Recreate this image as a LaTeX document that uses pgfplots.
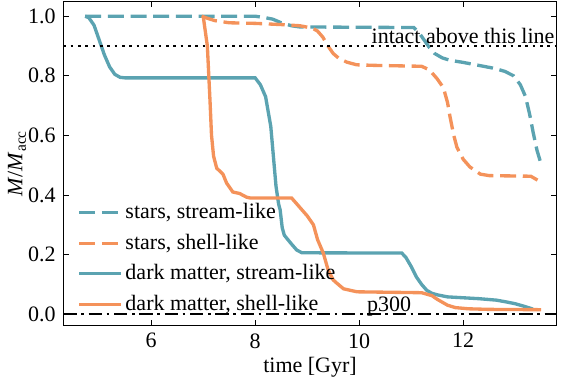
\documentclass[border=0pt]{standalone}
\usepackage{pgfplots}
\pgfplotsset{compat=1.18}
\usepackage{fontspec}
\setmainfont{Liberation Serif}
\definecolor{teal1}{RGB}{91,163,177}
\definecolor{orng}{RGB}{244,146,90}
\begin{document}
\fontsize{16.5}{19.5}\selectfont
\begin{tikzpicture}[font=\fontsize{16.5}{19.5}\selectfont]
\begin{axis}[
  scale only axis, width=370pt, height=243.3pt,
  xmin=4.31, xmax=13.80, ymin=-0.039, ymax=1.05,
  xtick={6,8,10,12}, ytick={0,0.2,0.4,0.6,0.8,1.0},
  /pgf/number format/assume math mode=true,
  tick label style={font=\fontsize{16.5}{19.5}\selectfont},
  label style={font=\fontsize{16.5}{19.5}\selectfont},
  yticklabel style={/pgf/number format/fixed,/pgf/number format/fixed zerofill,/pgf/number format/precision=1},
  tick align=inside, major tick length=4pt,
  axis line style={line width=0.8pt}, every tick/.style={black,line width=0.7pt},
  xlabel={time [Gyr]}, ylabel={\textit{M}/\textit{M}\textsubscript{acc}},
  ylabel style={yshift=-9.5pt},
  xlabel style={yshift=4.5pt},
  legend cell align=left,
  legend style={draw=none, fill=none, at={(0.02,0.02)}, anchor=south west, row sep=5pt,
    font=\fontsize{16.5}{19.5}\selectfont,
    /tikz/every even column/.append style={column sep=4pt}},
  legend image code/.code={\draw[#1] (0pt,0pt) -- (31.5pt,0pt);},
]
\addplot[teal1, line width=2.5pt, dash pattern=on 12pt off 5pt] coordinates {
(4.73,1.0) (8.0,1.0) (8.2,0.995) (8.34,0.99) (8.5,0.978) (8.7,0.968) (8.86,0.964) (11.05,0.962) (11.15,0.945) (11.25,0.92) (11.35,0.895) (11.45,0.875) (11.6,0.86) (11.75,0.852) (12.0,0.845) (12.3,0.835) (12.6,0.825) (12.8,0.815) (12.97,0.80) (13.1,0.77) (13.2,0.73) (13.28,0.67) (13.35,0.607) (13.42,0.55) (13.48,0.515)
};
\addlegendentry{stars, stream-like}
\addplot[orng, line width=2.5pt, dash pattern=on 12pt off 5pt] coordinates {
(6.97,1.0) (7.1,0.992) (7.23,0.985) (7.5,0.978) (8.0,0.976) (8.5,0.972) (8.86,0.968) (9.1,0.96) (9.2,0.95) (9.3,0.93) (9.4,0.9) (9.5,0.875) (9.6,0.86) (9.76,0.846) (9.95,0.837) (10.3,0.835) (11.2,0.832) (11.35,0.82) (11.5,0.79) (11.62,0.76) (11.7,0.71) (11.75,0.66) (11.82,0.6) (11.88,0.56) (12.0,0.52) (12.13,0.494) (12.33,0.47) (12.5,0.465) (13.3,0.463) (13.43,0.45)
};
\addlegendentry{stars, shell-like}
\addplot[teal1, line width=2.5pt] coordinates {
(4.73,1.0) (4.8,0.995) (4.9,0.97) (5.0,0.92) (5.1,0.87) (5.2,0.83) (5.3,0.805) (5.4,0.795) (5.5,0.793) (8.0,0.793) (8.1,0.77) (8.2,0.73) (8.3,0.63) (8.35,0.53) (8.4,0.43) (8.45,0.37) (8.48,0.35) (8.52,0.29) (8.56,0.265) (8.62,0.252) (8.7,0.235) (8.8,0.215) (8.9,0.206) (10.82,0.205) (10.9,0.19) (11.0,0.16) (11.1,0.125) (11.2,0.10) (11.3,0.08) (11.4,0.07) (11.5,0.065) (11.7,0.058) (12.0,0.055) (12.3,0.052) (12.64,0.047) (12.8,0.042) (13.0,0.035) (13.2,0.025) (13.34,0.017)
};
\addlegendentry{dark matter, stream-like}
\addplot[orng, line width=2.5pt] coordinates {
(7.0,1.0) (7.04,0.95) (7.08,0.9) (7.13,0.72) (7.16,0.6) (7.2,0.53) (7.26,0.49) (7.32,0.48) (7.38,0.47) (7.45,0.44) (7.57,0.41) (7.7,0.405) (7.83,0.393) (7.9,0.39) (8.7,0.39) (8.8,0.37) (8.9,0.35) (9.0,0.33) (9.12,0.30) (9.2,0.25) (9.31,0.205) (9.4,0.15) (9.5,0.115) (9.57,0.104) (9.7,0.085) (9.96,0.075) (11.2,0.072) (11.4,0.062) (11.5,0.05) (11.6,0.04) (11.7,0.03) (11.85,0.022) (12.1,0.018) (12.5,0.016) (13.5,0.015)
};
\addlegendentry{dark matter, shell-like}
\addplot[black, line width=2pt, dash pattern=on 2pt off 3.5pt, forget plot] coordinates {(4.31,0.9) (13.80,0.9)};
\addplot[black, line width=2pt, dash pattern=on 10pt off 3.5pt on 2pt off 3.5pt, forget plot] coordinates {(4.31,0.0) (13.80,0.0)};
\node[anchor=south east, inner sep=0pt] at (axis cs:13.76,0.908) {intact above this line};
\node[anchor=base west, inner sep=0pt] at (axis cs:10.15,0.008) {p300};
\end{axis}
\pgfresetboundingbox
\useasboundingbox ([xshift=-47.5pt,yshift=-41.5pt]current axis.south west) rectangle ([xshift=3.2pt,yshift=1pt]current axis.north east);
\end{tikzpicture}
\end{document}
